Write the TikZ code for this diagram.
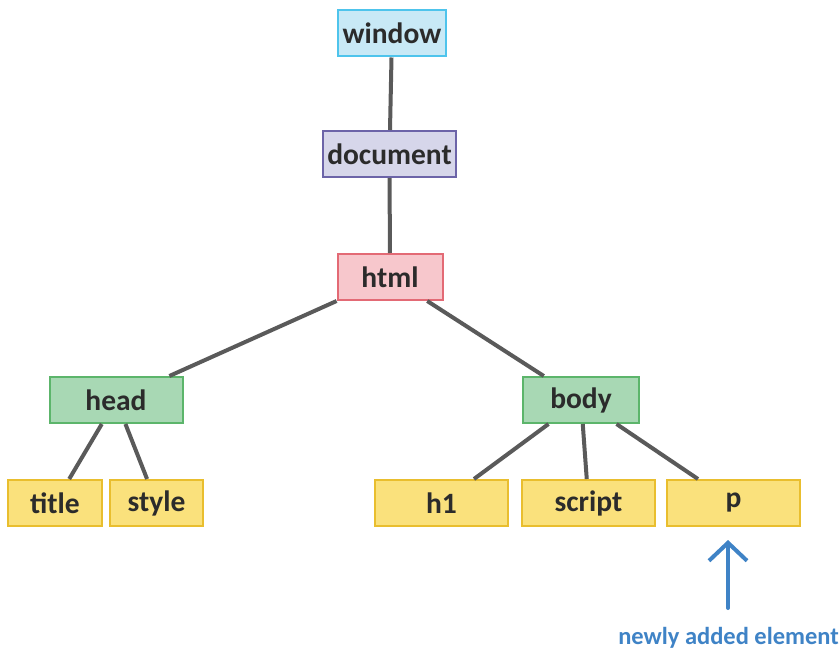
\documentclass[tikz,border=0pt]{standalone}
\usepackage{fontspec}
\setmainfont{Carlito}
\usetikzlibrary{arrows.meta}
\definecolor{txt}{HTML}{2B2B2B}
\definecolor{edge}{HTML}{5A5A5A}
\definecolor{winfill}{HTML}{C8E9F6}
\definecolor{windraw}{HTML}{4EC4EC}
\definecolor{docfill}{HTML}{D6D6EA}
\definecolor{docdraw}{HTML}{6C64A8}
\definecolor{htmlfill}{HTML}{F7C7CC}
\definecolor{htmldraw}{HTML}{E36A75}
\definecolor{grnfill}{HTML}{A8D8B4}
\definecolor{grndraw}{HTML}{5CB56B}
\definecolor{yelfill}{HTML}{FAE17C}
\definecolor{yeldraw}{HTML}{E9BE2E}
\definecolor{note}{HTML}{3F83C6}
\tikzset{
  box/.style={draw, line width=2pt, minimum height=46pt, inner sep=0pt,
    font=\fontsize{29.5}{32}\selectfont\bfseries, text=txt},
  winbox/.style={box, fill=winfill, draw=windraw, minimum width=108pt},
  docbox/.style={box, fill=docfill, draw=docdraw, minimum width=133pt},
  htmlbox/.style={box, fill=htmlfill, draw=htmldraw, minimum width=105pt},
  grnbox/.style={box, fill=grnfill, draw=grndraw, minimum width=133pt},
  yelbox/.style={box, fill=yelfill, draw=yeldraw},
  link/.style={draw=edge, line width=4pt},
  notearrow/.style={draw=note, line width=4pt, line cap=round,
    -{Straight Barb[length=18pt,width=38pt,line width=4pt]}},
}
\begin{document}
\begin{tikzpicture}[x=1pt,y=-1pt]
\useasboundingbox (0,0) rectangle (840,650);
\node[winbox] (window) at (392,33.5) {window};
\node[docbox] (document) at (389.5,154) {document};
\node[htmlbox] (html) at (390,277) {html};
\node[grnbox] (head) at (116,400) {head};
\node[grnbox, minimum width=116pt] (body) at (581,400) {body};
\node[yelbox, minimum width=94pt] (title) at (55,503) {title};
\node[yelbox, minimum width=93pt] (style) at (156.5,503) {style};
\node[yelbox, minimum width=133pt] (h1) at (441.5,503) {h1};
\node[yelbox, minimum width=133pt] (script) at (588.5,503) {script};
\node[yelbox, minimum width=133pt] (p) at (733.5,503) {p};
\draw[link] (window) -- (document);
\draw[link] (document) -- (html);
\draw[link] (html) -- (head);
\draw[link] (html) -- (body);
\draw[link] (head) -- (title);
\draw[link] (head) -- (style);
\draw[link] (body) -- (h1);
\draw[link] (body) -- (script);
\draw[link] (body) -- (p);
\coordinate (arrfrom) at (728,608);
\coordinate (arrto) at (728,540);
\draw[notearrow] (arrfrom) -- (arrto);
\node[text=note, font=\fontsize{24.5}{27}\selectfont\bfseries, anchor=base east, inner sep=0pt] (label) at (839,644) {newly added element};
\end{tikzpicture}
\end{document}
